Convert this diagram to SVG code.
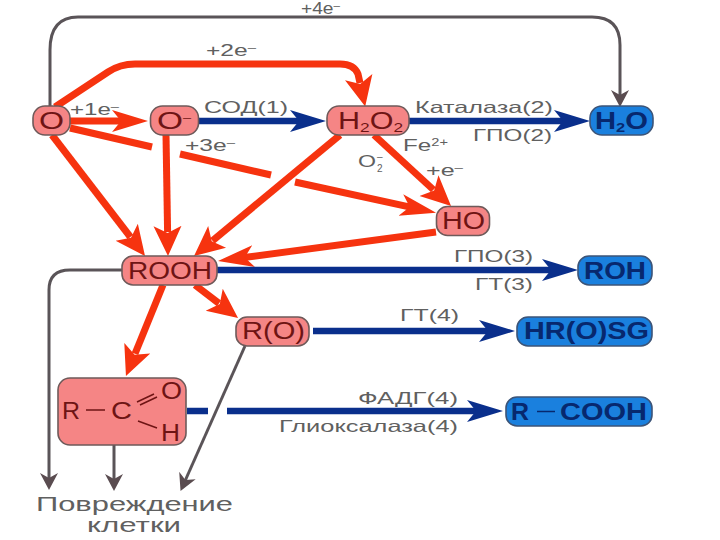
<svg xmlns="http://www.w3.org/2000/svg" width="720" height="540" viewBox="0 0 720 540">
<style>
text{font-family:"Liberation Sans",Arial,sans-serif}
.r{fill:#f58585;stroke:#6e5a5a;stroke-width:1.6}
.b{fill:#1a80de;stroke:#3c5478;stroke-width:1.6}
.rt{fill:#6e1414;font-size:23px}
.bt{fill:#07286e;font-size:23px;font-weight:bold}
.l{fill:#606060;font-size:16.500px}
.red{fill:none;stroke:#f6330f;stroke-width:7}
.blue{fill:none;stroke:#0a2f8c;stroke-width:6.500}
.gray{fill:none;stroke:#5a5458;stroke-width:3}
.s{font-size:10px}
</style>
<defs>
<marker id="mr" markerUnits="userSpaceOnUse" markerWidth="38" markerHeight="28" viewBox="0 0 38 28" refX="12" refY="14" orient="auto"><path d="M0,3 L36,14 L0,25 L9,14Z" fill="#f6330f"/></marker>
<marker id="md" markerUnits="userSpaceOnUse" markerWidth="32" markerHeight="30" viewBox="0 0 32 30" refX="6" refY="15" orient="auto"><path d="M0,1 L30,15 L0,29 L7,15Z" fill="#f6330f"/></marker>
<marker id="mb" markerUnits="userSpaceOnUse" markerWidth="38" markerHeight="28" viewBox="0 0 38 28" refX="12" refY="14" orient="auto"><path d="M0,3 L36,14 L0,25 L9,14Z" fill="#0a2f8c"/></marker>
<marker id="mg" markerUnits="userSpaceOnUse" markerWidth="20" markerHeight="20" viewBox="0 0 20 20" refX="6" refY="10" orient="auto"><path d="M0,1 L17,10 L0,19 L5,10Z" fill="#5a4c50"/></marker>
</defs>
<rect width="720" height="540" fill="#fff"/>
<g id="connectors">
<path class="gray" d="M50,107 V50 Q50,17 78,17 H592 Q620,17 620,45 V96" marker-end="url(#mg)"/>
<path class="gray" d="M122,270 H70 Q49,270 49,290 V479" marker-end="url(#mg)"/>
<path class="gray" d="M114,445 V480" marker-end="url(#mg)"/>
<path class="gray" d="M245,346 L185,481" marker-end="url(#mg)"/>
<path class="red" d="M55,107 L108,72 Q120,64 135,64 H340 Q354,64 358,74 L360,83" marker-end="url(#md)"/>
<path class="red" d="M70,121 H124" marker-end="url(#mr)"/>
<path class="red" d="M52,135 L130.400,237" marker-end="url(#md)"/>
<path class="red" d="M166,135 L167.600,232" marker-end="url(#md)"/>
<path class="red" d="M340,135 L212.500,240.700" marker-end="url(#md)"/>
<path class="red" d="M374,135 L433.400,189.700" marker-end="url(#md)"/>
<path class="red" d="M70,128 L152,147"/>
<path class="red" d="M180,154 L271,175"/>
<path class="red" d="M295,182 L412.600,207.600" marker-end="url(#mr)"/>
<path class="red" d="M436,232 L241.800,257.800" marker-end="url(#mr)"/>
<path class="red" d="M195,285 L219,303.400" marker-end="url(#md)"/>
<path class="red" d="M163,285 L135,353.800" marker-end="url(#md)"/>
<path class="blue" d="M198,121 H302" marker-end="url(#mb)"/>
<path class="blue" d="M409,121 H566" marker-end="url(#mb)"/>
<path class="blue" d="M217,270 H554" marker-end="url(#mb)"/>
<path class="blue" d="M313,331 H491" marker-end="url(#mb)"/>
<path class="blue" d="M187,411 H208"/>
<path class="blue" d="M227,411 H479" marker-end="url(#mb)"/>
</g>
<g id="labels">
<text class="l" x="301" y="14" textLength="39" lengthAdjust="spacingAndGlyphs">+4e<tspan class="s" dy="-5">–</tspan></text>
<text class="l" x="206" y="56" textLength="50" lengthAdjust="spacingAndGlyphs">+2e<tspan class="s" dy="-5">–</tspan></text>
<text class="l" x="70" y="115" textLength="49" lengthAdjust="spacingAndGlyphs">+1e<tspan class="s" dy="-5">–</tspan></text>
<text class="l" x="185" y="151" textLength="50" lengthAdjust="spacingAndGlyphs">+3e<tspan class="s" dy="-5">–</tspan></text>
<text class="l" x="204" y="113" textLength="84" lengthAdjust="spacingAndGlyphs">СОД(1)</text>
<text class="l" x="415" y="113" textLength="138" lengthAdjust="spacingAndGlyphs">Каталаза(2)</text>
<text class="l" x="473" y="141" textLength="79" lengthAdjust="spacingAndGlyphs">ГПО(2)</text>
<text class="l" x="403" y="151" textLength="45" lengthAdjust="spacingAndGlyphs">Fe<tspan class="s" dy="-5">2+</tspan></text>
<text class="l" x="358" y="167" textLength="18" lengthAdjust="spacingAndGlyphs">O</text>
<text class="s" x="377" y="160" fill="#606060">–</text>
<text class="s" x="377" y="172" fill="#606060">2</text>
<text class="l" x="426" y="176" textLength="37" lengthAdjust="spacingAndGlyphs">+e<tspan class="s" dy="-5">–</tspan></text>
<text class="l" x="454" y="262" textLength="79" lengthAdjust="spacingAndGlyphs">ГПО(3)</text>
<text class="l" x="475" y="290" textLength="58" lengthAdjust="spacingAndGlyphs">ГТ(3)</text>
<text class="l" x="400" y="321" textLength="59" lengthAdjust="spacingAndGlyphs">ГТ(4)</text>
<text class="l" x="358" y="404" textLength="100" lengthAdjust="spacingAndGlyphs">ФАДГ(4)</text>
<text class="l" x="279" y="432" textLength="179" lengthAdjust="spacingAndGlyphs">Глиоксалаза(4)</text>
<text x="36" y="511" fill="#606060" font-size="20" textLength="197" lengthAdjust="spacingAndGlyphs">Повреждение</text>
<text x="87" y="532" fill="#606060" font-size="20" textLength="94" lengthAdjust="spacingAndGlyphs">клетки</text>
</g>
<g id="node-o"><rect class="r" x="33" y="106" width="37" height="29" rx="12"/><text class="rt" x="39" y="129" textLength="25" lengthAdjust="spacingAndGlyphs">O</text></g>
<g id="node-o-minus"><rect class="r" x="150.500" y="106" width="48" height="29" rx="12"/><text class="rt" x="157" y="129" textLength="34" lengthAdjust="spacingAndGlyphs">O<tspan class="s" dy="-8">–</tspan></text></g>
<g id="node-h2o2"><rect class="r" x="327" y="106" width="82" height="29" rx="12"/><text class="rt" x="338" y="129" textLength="65" lengthAdjust="spacingAndGlyphs">H<tspan font-size="13" dy="3">2</tspan><tspan dy="-3">O</tspan><tspan font-size="13" dy="3">2</tspan></text></g>
<g id="node-h2o"><rect class="b" x="590" y="106" width="63" height="29" rx="12"/><text class="bt" x="595" y="129" textLength="53" lengthAdjust="spacingAndGlyphs">H<tspan font-size="13" dy="3">2</tspan><tspan dy="-3">O</tspan></text></g>
<g id="node-ho"><rect class="r" x="436.500" y="206.500" width="53" height="29" rx="11"/><text class="rt" x="442" y="229" textLength="43" lengthAdjust="spacingAndGlyphs">HO</text></g>
<g id="node-rooh"><rect class="r" x="122" y="256" width="95" height="29" rx="11"/><text class="rt" x="128" y="279" textLength="84" lengthAdjust="spacingAndGlyphs">ROOH</text></g>
<g id="node-roh"><rect class="b" x="578" y="256" width="74" height="29" rx="11"/><text class="bt" x="584" y="279" textLength="62" lengthAdjust="spacingAndGlyphs">ROH</text></g>
<g id="node-ro"><rect class="r" x="236" y="317" width="73" height="29" rx="11"/><text class="rt" x="242" y="339" textLength="63" lengthAdjust="spacingAndGlyphs">R(O)</text></g>
<g id="node-hrosg"><rect class="b" x="517" y="317" width="135" height="29" rx="11"/><text class="bt" x="524" y="339" textLength="125" lengthAdjust="spacingAndGlyphs">HR(O)SG</text></g>
<g id="node-aldehyde"><rect class="r" x="58" y="378" width="128" height="67" rx="12"/>
<text class="rt" x="62" y="419" textLength="18" lengthAdjust="spacingAndGlyphs">R</text>
<text class="rt" x="111" y="419" textLength="21" lengthAdjust="spacingAndGlyphs">C</text>
<text class="rt" x="161" y="399" textLength="21" lengthAdjust="spacingAndGlyphs">O</text>
<text class="rt" x="161" y="441" textLength="19" lengthAdjust="spacingAndGlyphs">H</text>
<path d="M86,410 H105 M137,402 L154,394 M140,405 L157,397 M138,421 L157,428" fill="none" stroke="#6e1414" stroke-width="1.500"/></g>
<g id="node-rcooh"><rect class="b" x="506" y="397" width="146" height="29" rx="11"/><text class="bt" x="511" y="420" textLength="18" lengthAdjust="spacingAndGlyphs">R</text><path d="M537,411.500 H555" stroke="#07286e" stroke-width="1.500"/><text class="bt" x="560" y="420" textLength="87" lengthAdjust="spacingAndGlyphs">COOH</text></g>
</svg>
